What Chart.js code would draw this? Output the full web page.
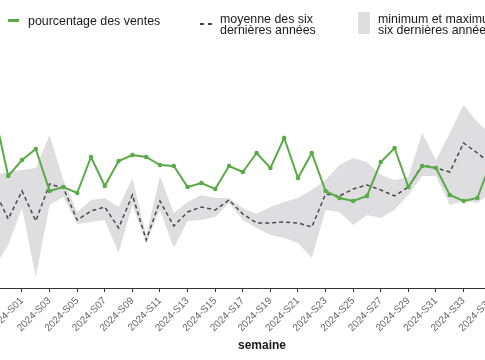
<!DOCTYPE html>
<html><head><meta charset="utf-8">
<script src="https://cdn.jsdelivr.net/npm/chart.js@4"></script>
<style>
html,body{margin:0;padding:0;width:485px;height:360px;overflow:hidden;background:#fff;}
#wrap{position:relative;width:485px;height:360px;overflow:hidden;}
#c{position:absolute;left:-60px;top:0;}
.lg{position:absolute;font-family:"Liberation Sans",Arial,sans-serif;font-size:12.4px;line-height:11px;color:#1a1a1a;white-space:nowrap;}
.mk{position:absolute;}
</style></head>
<body>
<div id="wrap">
<canvas id="c" width="644" height="360"></canvas>
<div class="mk" style="left:8px;top:19px;width:11px;height:3px;background:#5aab47;"></div>
<div class="lg" style="left:28px;top:16px;">pourcentage des ventes</div>
<div class="mk" style="left:200px;top:23px;width:4px;height:1.5px;background:#444;"></div>
<div class="mk" style="left:208px;top:23px;width:4px;height:1.5px;background:#444;"></div>
<div class="lg" style="left:220px;top:14px;">moyenne des six<br>dernières années</div>
<div class="mk" style="left:358px;top:12px;width:12px;height:22px;background:#dedee0;"></div>
<div class="lg" style="left:378px;top:14px;">minimum et maximum des<br>six dernières années</div>
</div>
<script>
const weeks = ['2023-S51','2023-S52','2024-S01','2024-S02','2024-S03','2024-S04','2024-S05','2024-S06','2024-S07','2024-S08','2024-S09','2024-S10','2024-S11','2024-S12','2024-S13','2024-S14','2024-S15','2024-S16','2024-S17','2024-S18','2024-S19','2024-S20','2024-S21','2024-S22','2024-S23','2024-S24','2024-S25','2024-S26','2024-S27','2024-S28','2024-S29','2024-S30','2024-S31','2024-S32','2024-S33','2024-S34','2024-S35'];
const pourcentageVentes = [8.75,5.60,6.40,6.95,4.85,5.05,4.75,6.55,5.10,6.35,6.65,6.55,6.15,6.10,5.05,5.25,4.95,6.10,5.80,6.75,6.00,7.50,5.50,6.75,4.85,4.50,4.35,4.60,6.30,7.00,5.05,6.10,6.00,4.65,4.35,4.50,6.35];
const moyenneSixAns = [4.90,3.45,4.85,3.35,5.20,5.00,3.40,3.85,4.05,3.00,4.65,2.40,4.35,3.10,3.80,4.05,3.90,4.40,3.70,3.25,3.25,3.30,3.25,3.05,4.70,4.60,4.95,5.15,4.90,4.60,5.05,6.15,6.00,5.80,7.25,6.75,6.20];
const maxSixAns = [5.65,5.80,5.90,6.00,7.65,5.40,3.80,4.40,4.50,4.05,5.50,2.60,5.60,3.75,4.30,4.65,4.50,4.50,4.00,3.70,4.05,4.30,4.50,4.90,5.40,6.15,6.50,6.30,5.65,5.40,5.55,7.75,6.40,7.75,9.15,8.30,7.65];
const minSixAns = [1.05,2.15,4.00,0.55,4.15,4.55,3.20,3.30,3.40,1.75,4.15,2.25,3.90,2.00,3.35,3.40,3.55,4.25,3.40,3.00,2.65,2.50,2.25,1.50,3.90,3.80,3.15,3.65,3.50,3.90,4.65,5.60,5.60,4.15,4.35,4.25,4.80];
const tickWeekIdx = weeks.map((w,i)=>i).filter(i => parseInt(weeks[i].slice(-2),10) % 2 === 1);

const pts = arr => arr.map((v,i)=>({x:i,y:v}));
const GREEN = '#5aab47';
new Chart(document.getElementById('c'), {
  type: 'line',
  data: {
    datasets: [
      {label:'pourcentage des ventes', data: pts(pourcentageVentes), borderColor: GREEN, backgroundColor: GREEN,
       borderWidth: 2, pointRadius: 2.3, pointBackgroundColor: GREEN, pointBorderWidth: 0, tension: 0, fill: false},
      {label:'moyenne des six dernières années', data: pts(moyenneSixAns), borderColor: '#4a4a4a',
       borderWidth: 1.5, borderDash: [4,3], pointRadius: 0, tension: 0, fill: false},
      {label:'maximum', data: pts(maxSixAns), borderWidth: 0, borderColor: 'rgba(0,0,0,0)', pointRadius: 0,
       backgroundColor: '#dedee0', fill: '+1', tension: 0},
      {label:'minimum', data: pts(minSixAns), borderWidth: 0, borderColor: 'rgba(0,0,0,0)', pointRadius: 0,
       fill: false, tension: 0}
    ]
  },
  options: {
    responsive: false, animation: false, devicePixelRatio: 1,
    layout: {autoPadding: false, padding: {top: 40, left: 0, right: 0, bottom: 0}},
    plugins: {legend: {display: false}, tooltip: {enabled: false}},
    scales: {
      x: {
        type: 'linear', min: -3.942, max: 42.725,
        afterBuildTicks: s => { s.ticks = tickWeekIdx.map(v => ({value: v})); },
        afterFit: s => { s.height = 72; s.paddingLeft = 0; s.paddingRight = 0; },
        grid: {drawOnChartArea: false, drawTicks: true, tickLength: 4, color: '#333', tickColor: '#333'},
        border: {display: true, color: '#333', width: 1},
        ticks: {autoSkip: false, minRotation: 45, maxRotation: 45, padding: 3, color: '#666',
          font: {family: '"Liberation Sans", Arial, sans-serif', size: 10},
          callback: v => weeks[v]},
        title: {display: true, text: 'semaine', color: '#1a1a1a', padding: {top: 0, bottom: 7},
          font: {family: '"Liberation Sans", Arial, sans-serif', size: 12, weight: 'bold'}}
      },
      y: {display: false, min: 0, max: 12.4}
    }
  }
});
</script>
</body></html>
